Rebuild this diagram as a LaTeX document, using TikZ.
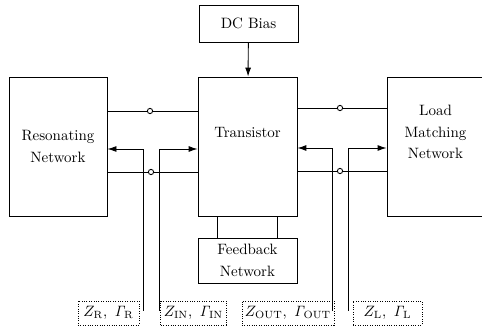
\documentclass[tikz,border=0pt]{standalone}
\usetikzlibrary{arrows.meta}
\begin{document}
\begin{tikzpicture}[x=0.667pt, y=-0.667pt, >={Latex[length=6pt,width=4pt]}, line width=0.6pt]
      \tikzset{
  block/.style={
    rectangle,
    draw,
    inner sep=0pt,
    align=center,
    font={\linespread{1.2}\selectfont}
  },
  tag/.style={
    rectangle,
    draw,
    densely dotted,
    minimum height=16pt,
    inner sep=2pt
  },
  term/.style={
    circle,
    draw,
    fill=white,
    minimum size=3.5pt,
    inner sep=0pt
  }
}
\useasboundingbox (0,0) rectangle (482,328);

\node [block, minimum width=66pt, minimum height=24.7pt] (bias) at (248.5,23.5) {DC Bias};
\node [block, minimum width=66pt, minimum height=92.7pt,
  label={[yshift=9pt]center:Transistor}] (tr) at (247.5,146.5) {};
\node [block, minimum width=65.4pt, minimum height=92.7pt] (res) at (58,146.5) {Resonating\\Network};
\node [block, minimum width=64.7pt, minimum height=92.7pt,
  label={[block, draw=none, yshift=9.5pt]center:Load\\Matching\\Network}] (load) at (435.5,146.5) {};
\node [block, minimum width=66pt, minimum height=30pt] (fb) at (247.5,260.5) {Feedback\\Network};

\draw [->] (bias) -- (tr);
\draw (tr.south -| 217,0) -- (fb.north -| 217,0);
\draw (tr.south -| 277,0) -- (fb.north -| 277,0);

% terminals
\foreach \t/\a/\b/\x/\y in {t1/res.east/tr.west/150/111, t2/res.east/tr.west/151/172,
                            t3/tr.east/load.west/340/108, t4/tr.east/load.west/340/171}
{
  \node [term] (\t) at (\x,\y) {};
  \draw (\a |- \t) -- (\t) -- (\b |- \t);
}

% looking-in arrows
\foreach \n/\x/\y/\tgt in {r/143/149/res.east, in/159/149/tr.west,
                           out/332/148/tr.east, l/348/148/load.west}
{
  \coordinate (z-\n) at (\x,311);
  \draw [->] (z-\n) |- (\tgt |- 0,\y);
}

\foreach \n/\x/\w/\l in {r/108.5/40.7pt/{$Z_{\mathrm{R}},\ \mathit{\Gamma}_{\mathrm{R}}$},
                         in/193.5/42pt/{$Z_{\mathrm{IN}},\ \mathit{\Gamma}_{\mathrm{IN}}$},
                         out/288/56pt/{$Z_{\mathrm{OUT}},\ \mathit{\Gamma}_{\mathrm{OUT}}$},
                         l/387.5/46pt/{$Z_{\mathrm{L}},\ \mathit{\Gamma}_{\mathrm{L}}$}}
  \node [tag, minimum width=\w] (tag-\n) at (\x,313) {\l};
    \end{tikzpicture}
\end{document}
